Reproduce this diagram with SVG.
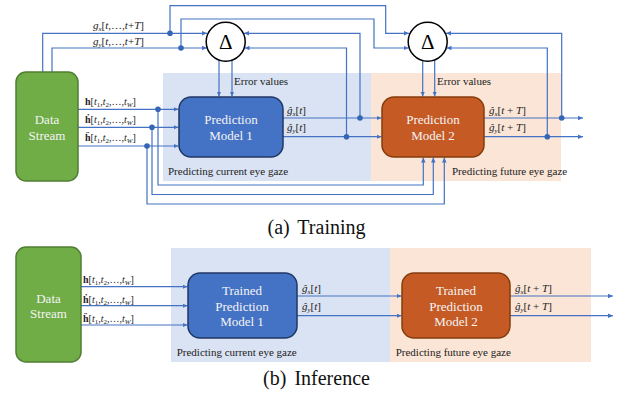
<svg xmlns="http://www.w3.org/2000/svg" width="622" height="393" viewBox="0 0 622 393">
<style>
.ln{fill:none;stroke:#4472C4;stroke-width:1.2}
.ar{marker-end:url(#ah)}
.dot{fill:#3565B5}
.t{font-family:"Liberation Serif","Times New Roman",serif;fill:#222}
.lab{font-size:11px}
.hl{font-size:10px}
.i{font-style:italic}
.s{font-size:7px}
.b{font-weight:bold}
.mdl{font-family:"Liberation Serif","Times New Roman",serif;font-size:13px;fill:#F4F4F4;text-anchor:middle}
.ttl{font-family:"Liberation Serif","Times New Roman",serif;font-size:20px;fill:#111;text-anchor:middle;word-spacing:3px}
.ds{fill:#70AD47;stroke:#507E32;stroke-width:1.5}
.m1{fill:#4472C4;stroke:#203864;stroke-width:1.5}
.m2{fill:#C55A24;stroke:#843C0C;stroke-width:1.5}
.bgb{fill:#DAE3F3}
.bgo{fill:#FBE5D6}
.dl{fill:#fff;stroke:#000;stroke-width:1.5}
.dt{font-family:"Liberation Serif","Times New Roman",serif;font-size:21px;fill:#000;text-anchor:middle}
</style>
<defs>
<marker id="ah" markerUnits="userSpaceOnUse" markerWidth="6" markerHeight="5" refX="5" refY="2.25" orient="auto">
<path d="M0,0 L5,2.25 L0,4.5 z" fill="#4472C4"/>
</marker>
</defs>

<!-- backgrounds -->
<g id="bg-train">
<rect class="bgb" x="163" y="73" width="208" height="108"/>
<rect class="bgo" x="371" y="73" width="190" height="108"/>
</g>
<g id="bg-infer">
<rect class="bgb" x="171" y="248" width="219" height="114"/>
<rect class="bgo" x="390" y="248" width="201" height="114"/>
</g>

<!-- connectors -->
<g id="connectors">
<path class="ln ar" d="M42.7,72 V33.3 H207"/>
<path class="ln ar" d="M52,72 V48 H207"/>
<path class="ln ar" d="M170,33.3 V5.7 H385.7 V33.3 H409"/>
<path class="ln ar" d="M181,48 V19 H374 V48 H408.5"/>
<path class="ln ar" d="M219,60 V96.5"/>
<path class="ln ar" d="M232,60 V96.5"/>
<path class="ln ar" d="M422.7,60 V96.5"/>
<path class="ln ar" d="M434.7,60 V96.5"/>
<path class="ln ar" d="M78,109.3 H178.5"/>
<path class="ln ar" d="M78,127.3 H178.5"/>
<path class="ln ar" d="M78,146 H178.5"/>
<path class="ln ar" d="M158,109.3 V185 H423.3 V157.5"/>
<path class="ln ar" d="M152,127.3 V194.5 H433.3 V157.5"/>
<path class="ln ar" d="M147,146 V204 H444.3 V157.5"/>
<path class="ln ar" d="M283,118 H381.5"/>
<path class="ln ar" d="M283,136.7 H381.5"/>
<path class="ln ar" d="M360,118 V33.3 H244"/>
<path class="ln ar" d="M346.5,136.7 V48 H244.5"/>
<path class="ln ar" d="M484,118 H583"/>
<path class="ln ar" d="M484,136.7 H583"/>
<path class="ln ar" d="M561.7,118 V33.3 H446"/>
<path class="ln ar" d="M547.3,136.7 V48 H446.5"/>
<circle class="dot" cx="170" cy="33.3" r="2.8"/>
<circle class="dot" cx="181" cy="48" r="2.8"/>
<circle class="dot" cx="158" cy="109.3" r="2.8"/>
<circle class="dot" cx="152" cy="127.3" r="2.8"/>
<circle class="dot" cx="147" cy="146" r="2.8"/>
<circle class="dot" cx="360" cy="118" r="2.8"/>
<circle class="dot" cx="346.5" cy="136.7" r="2.8"/>
<circle class="dot" cx="561.7" cy="118" r="2.8"/>
<circle class="dot" cx="547.3" cy="136.7" r="2.8"/>
<!-- inference -->
<path class="ln ar" d="M81,286.7 H187.5"/>
<path class="ln ar" d="M81,305.7 H187.5"/>
<path class="ln ar" d="M81,325 H187.5"/>
<path class="ln ar" d="M297,296 H401.5"/>
<path class="ln ar" d="M297,315.7 H401.5"/>
<path class="ln ar" d="M510,296 H613"/>
<path class="ln ar" d="M510,315.7 H613"/>
</g>

<!-- training nodes -->
<g id="ds1">
<rect class="ds" x="16" y="72" width="62" height="109" rx="10"/>
<text class="mdl" x="47" y="123.5">Data</text>
<text class="mdl" x="47" y="139.5">Stream</text>
</g>
<g id="delta1">
<circle class="dl" cx="225.7" cy="41.7" r="19.5"/>
<text class="dt" x="225.7" y="49">Δ</text>
</g>
<g id="delta2">
<circle class="dl" cx="427.7" cy="41.7" r="19.5"/>
<text class="dt" x="427.7" y="49">Δ</text>
</g>
<g id="pm1">
<rect class="m1" x="179" y="97" width="104" height="60" rx="12"/>
<text class="mdl" x="231" y="123.5">Prediction</text>
<text class="mdl" x="231" y="139.5">Model 1</text>
</g>
<g id="pm2">
<rect class="m2" x="382" y="97" width="102" height="60" rx="12"/>
<text class="mdl" x="433" y="123.5">Prediction</text>
<text class="mdl" x="433" y="139.5">Model 2</text>
</g>

<!-- training labels -->
<g id="labels-train">
<text class="t lab" x="93" y="29"><tspan class="i">g</tspan><tspan class="i s" dy="2">x</tspan><tspan dy="-2">[</tspan><tspan class="i">t</tspan>,…,<tspan class="i">t</tspan>+<tspan class="i">T</tspan>]</text>
<text class="t lab" x="93" y="44.5"><tspan class="i">g</tspan><tspan class="i s" dy="2">y</tspan><tspan dy="-2">[</tspan><tspan class="i">t</tspan>,…,<tspan class="i">t</tspan>+<tspan class="i">T</tspan>]</text>
<text class="t lab" x="234" y="85">Error values</text>
<text class="t lab" x="437" y="85">Error values</text>
<text class="t hl" x="85" y="105"><tspan class="b">h</tspan>[<tspan class="i">t</tspan><tspan class="s" dy="2">1</tspan><tspan dy="-2">,</tspan><tspan class="i">t</tspan><tspan class="s" dy="2">2</tspan><tspan dy="-2">,…,</tspan><tspan class="i">t</tspan><tspan class="s i" dy="2">W</tspan><tspan dy="-2">]</tspan></text>
<text class="t hl" x="85" y="123"><tspan class="b">ḣ</tspan>[<tspan class="i">t</tspan><tspan class="s" dy="2">1</tspan><tspan dy="-2">,</tspan><tspan class="i">t</tspan><tspan class="s" dy="2">2</tspan><tspan dy="-2">,…,</tspan><tspan class="i">t</tspan><tspan class="s i" dy="2">W</tspan><tspan dy="-2">]</tspan></text>
<text class="t hl" x="85" y="141"><tspan class="b">ḧ</tspan>[<tspan class="i">t</tspan><tspan class="s" dy="2">1</tspan><tspan dy="-2">,</tspan><tspan class="i">t</tspan><tspan class="s" dy="2">2</tspan><tspan dy="-2">,…,</tspan><tspan class="i">t</tspan><tspan class="s i" dy="2">W</tspan><tspan dy="-2">]</tspan></text>
<text class="t lab" x="287" y="113.5"><tspan class="i">ĝ</tspan><tspan class="i s" dy="2">x</tspan><tspan dy="-2">[</tspan><tspan class="i">t</tspan>]</text>
<text class="t lab" x="287" y="131"><tspan class="i">ĝ</tspan><tspan class="i s" dy="2">y</tspan><tspan dy="-2">[</tspan><tspan class="i">t</tspan>]</text>
<text class="t lab" x="489" y="113.5"><tspan class="i">ĝ</tspan><tspan class="i s" dy="2">x</tspan><tspan dy="-2">[</tspan><tspan class="i">t</tspan> + <tspan class="i">T</tspan>]</text>
<text class="t lab" x="489" y="131"><tspan class="i">ĝ</tspan><tspan class="i s" dy="2">y</tspan><tspan dy="-2">[</tspan><tspan class="i">t</tspan> + <tspan class="i">T</tspan>]</text>
<text class="t lab" x="168" y="175">Predicting current eye gaze</text>
<text class="t lab" x="452" y="175">Predicting future eye gaze</text>
<text class="ttl" x="316.5" y="234">(a) Training</text>
</g>

<!-- inference nodes -->
<g id="ds2">
<rect class="ds" x="16" y="247" width="65" height="115" rx="10"/>
<text class="mdl" x="48.5" y="302.5">Data</text>
<text class="mdl" x="48.5" y="318">Stream</text>
</g>
<g id="tpm1">
<rect class="m1" x="188" y="273" width="109" height="65" rx="12"/>
<text class="mdl" x="242" y="294.5">Trained</text>
<text class="mdl" x="242" y="310.5">Prediction</text>
<text class="mdl" x="242" y="326">Model 1</text>
</g>
<g id="tpm2">
<rect class="m2" x="402" y="273" width="108" height="65" rx="12"/>
<text class="mdl" x="456" y="294.5">Trained</text>
<text class="mdl" x="456" y="310.5">Prediction</text>
<text class="mdl" x="456" y="326">Model 2</text>
</g>

<g id="labels-infer">
<text class="t hl" x="83" y="283"><tspan class="b">h</tspan>[<tspan class="i">t</tspan><tspan class="s" dy="2">1</tspan><tspan dy="-2">,</tspan><tspan class="i">t</tspan><tspan class="s" dy="2">2</tspan><tspan dy="-2">,…,</tspan><tspan class="i">t</tspan><tspan class="s i" dy="2">W</tspan><tspan dy="-2">]</tspan></text>
<text class="t hl" x="83" y="302.5"><tspan class="b">ḣ</tspan>[<tspan class="i">t</tspan><tspan class="s" dy="2">1</tspan><tspan dy="-2">,</tspan><tspan class="i">t</tspan><tspan class="s" dy="2">2</tspan><tspan dy="-2">,…,</tspan><tspan class="i">t</tspan><tspan class="s i" dy="2">W</tspan><tspan dy="-2">]</tspan></text>
<text class="t hl" x="83" y="322"><tspan class="b">ḧ</tspan>[<tspan class="i">t</tspan><tspan class="s" dy="2">1</tspan><tspan dy="-2">,</tspan><tspan class="i">t</tspan><tspan class="s" dy="2">2</tspan><tspan dy="-2">,…,</tspan><tspan class="i">t</tspan><tspan class="s i" dy="2">W</tspan><tspan dy="-2">]</tspan></text>
<text class="t lab" x="302" y="292"><tspan class="i">ĝ</tspan><tspan class="i s" dy="2">x</tspan><tspan dy="-2">[</tspan><tspan class="i">t</tspan>]</text>
<text class="t lab" x="302" y="310"><tspan class="i">ĝ</tspan><tspan class="i s" dy="2">y</tspan><tspan dy="-2">[</tspan><tspan class="i">t</tspan>]</text>
<text class="t lab" x="515" y="292"><tspan class="i">ĝ</tspan><tspan class="i s" dy="2">x</tspan><tspan dy="-2">[</tspan><tspan class="i">t</tspan> + <tspan class="i">T</tspan>]</text>
<text class="t lab" x="515" y="310"><tspan class="i">ĝ</tspan><tspan class="i s" dy="2">y</tspan><tspan dy="-2">[</tspan><tspan class="i">t</tspan> + <tspan class="i">T</tspan>]</text>
<text class="t lab" x="176.7" y="356">Predicting current eye gaze</text>
<text class="t lab" x="395.7" y="356">Predicting future eye gaze</text>
<text class="ttl" x="316.5" y="385">(b) Inference</text>
</g>
</svg>
